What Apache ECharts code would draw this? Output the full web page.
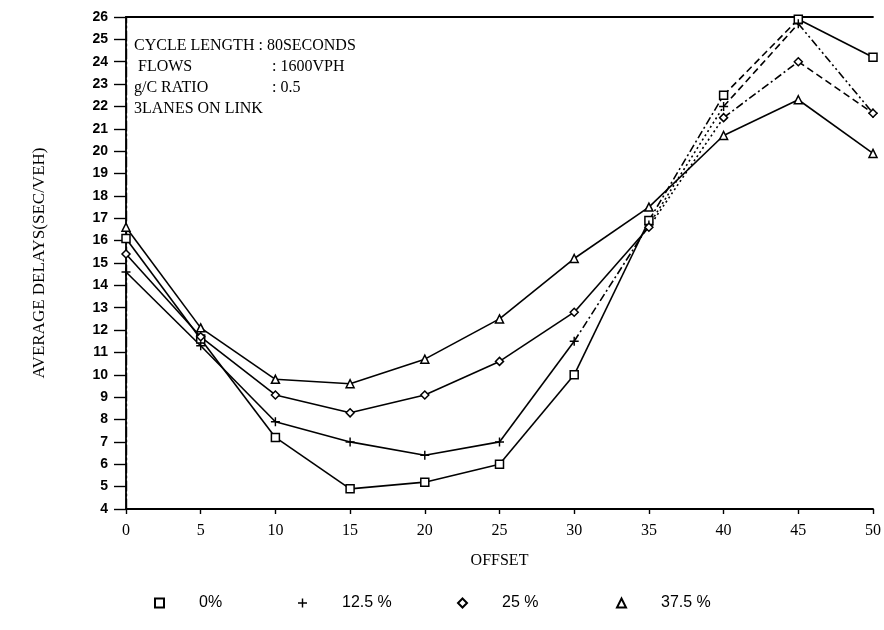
<!DOCTYPE html>
<html>
<head>
<meta charset="utf-8">
<script src="https://cdn.jsdelivr.net/npm/echarts@6/dist/echarts.min.js"></script>
<style>html,body{margin:0;padding:0;background:#fff;}#c{width:884px;height:630px;}</style>
</head>
<body>
<div id="c"></div>
<script>
// ---- data ----
const offsets = [0, 5, 10, 15, 20, 25, 30, 35, 40, 45, 50];
const seriesNames = ['0%', '12.5 %', '25 %', '37.5 %'];
const delay0 = [16.1, 11.6, 7.2, 4.9, 5.2, 6.0, 10.0, 16.9, 22.5, 25.9, 24.2];
const delay125 = [14.6, 11.3, 7.9, 7.0, 6.4, 7.0, 11.5, 16.7, 22.0, 25.7, 21.7];
const delay25 = [15.4, 11.7, 9.1, 8.3, 9.1, 10.6, 12.8, 16.6, 21.5, 24.0, 21.7];
const delay375 = [16.6, 12.1, 9.8, 9.6, 10.7, 12.5, 15.2, 17.5, 20.7, 22.3, 19.9];
const yTicks = { min: 4, max: 26, step: 1 };
const xTicks = { min: 0, max: 50, step: 5 };
const noteLines = [
  ['CYCLE LENGTH : 80SECONDS', ''],
  [' FLOWS', ': 1600VPH'],
  ['g/C RATIO', ': 0.5'],
  ['3LANES ON LINK', '']
];

// ---- styles ----
const allData = [delay0, delay125, delay25, delay375];
const dashes = {
  solid: 'solid',
  dash: [7, 4],
  dot: [2, 3],
  dashdot: [8, 3, 2, 3],
  dashdotdot: [8, 3, 2, 3, 2, 3]
};
const S = 'solid';
const segStyles = [
  [S, S, S, S, S, S, S, 'dashdot', 'dash', S],
  [S, S, S, S, S, S, 'dashdot', 'dot', 'dash', 'dashdotdot'],
  [S, S, S, S, S, S, S, 'dot', 'dashdot', 'dash'],
  [S, S, S, S, S, S, S, S, S, S]
];
const plusPath = 'path://M4.2,0H5.8V4.2H10V5.8H5.8V10H4.2V5.8H0V4.2H4.2Z';
const markers = [
  { symbol: 'rect', size: 8, itemStyle: { color: '#fff', borderColor: '#000', borderWidth: 1.5 } },
  { symbol: plusPath, size: 9, itemStyle: { color: '#000', borderWidth: 0 } },
  { symbol: 'diamond', size: 8, itemStyle: { color: '#fff', borderColor: '#000', borderWidth: 1.5 } },
  { symbol: 'triangle', size: 8, itemStyle: { color: '#fff', borderColor: '#000', borderWidth: 1.5 } }
];
const LW = 1.6;

const series = [];
allData.forEach((vals, si) => {
  for (let i = 0; i < offsets.length - 1; i++) {
    series.push({
      type: 'line',
      silent: true,
      showSymbol: false,
      symbol: 'none',
      z: 2,
      data: [[offsets[i], vals[i]], [offsets[i + 1], vals[i + 1]]],
      lineStyle: { color: '#000', width: LW, type: dashes[segStyles[si][i]] },
      animation: false
    });
  }
});
allData.forEach((vals, si) => {
  series.push({
    name: seriesNames[si],
    type: 'line',
    z: 5,
    data: offsets.map((x, i) => [x, vals[i]]),
    symbol: markers[si].symbol,
    symbolSize: markers[si].size,
    showSymbol: true,
    itemStyle: markers[si].itemStyle,
    lineStyle: { width: 0, opacity: 0 },
    animation: false
  });
});

const legendLefts = [149, 293, 452, 611];
const legends = seriesNames.map((n, i) => ({
  left: legendLefts[i],
  top: 590,
  data: [{ name: n, icon: markers[i].symbol }],
  itemWidth: 9,
  itemHeight: 9,
  selectedMode: false,
  textStyle: { fontFamily: 'Liberation Sans Narrow, Liberation Sans, sans-serif', fontSize: 16, color: '#000', padding: [0, 0, 0, 30] }
}));

const serif = 'Liberation Serif, Times New Roman, serif';
const graphics = [];
noteLines.forEach((ln, i) => {
  graphics.push({ type: 'text', left: 134, top: 38 + i * 21, style: { text: ln[0], font: '16px ' + serif, fill: '#000' } });
  if (ln[1]) graphics.push({ type: 'text', left: 272, top: 38 + i * 21, style: { text: ln[1], font: '16px ' + serif, fill: '#000' } });
});

const chart = echarts.init(document.getElementById('c'), null, { renderer: 'canvas' });
chart.setOption({
  animation: false,
  backgroundColor: '#fff',
  grid: { left: 126, right: 8, top: 17, bottom: 121, containLabel: false },
  legend: legends,
  graphic: graphics,
  xAxis: [{
    type: 'value', min: xTicks.min, max: xTicks.max, interval: xTicks.step,
    name: 'OFFSET', nameLocation: 'middle', nameGap: 44,
    nameTextStyle: { fontFamily: serif, fontSize: 16, color: '#000' },
    axisLine: { lineStyle: { color: '#000', width: 1.8 } },
    axisTick: { inside: false, length: 5, lineStyle: { color: '#000', width: 1.4 } },
    axisLabel: { margin: 14, fontFamily: serif, fontSize: 16, color: '#000' },
    splitLine: { show: false }
  }, {
    type: 'value', position: 'top', min: xTicks.min, max: xTicks.max, interval: xTicks.step,
    axisLine: { show: true, lineStyle: { color: '#000', width: 1.8 } },
    axisTick: { show: false }, axisLabel: { show: false }, splitLine: { show: false }
  }],
  yAxis: [{
    type: 'value', min: yTicks.min, max: yTicks.max, interval: yTicks.step,
    name: 'AVERAGE DELAYS(SEC/VEH)', nameLocation: 'middle', nameGap: 78, nameRotate: 90,
    nameTextStyle: { fontFamily: serif, fontSize: 17, color: '#000' },
    axisLine: { show: true, lineStyle: { color: '#000', width: 1.8 } },
    axisTick: { inside: false, length: 12, lineStyle: { color: '#000', width: 1.4 } },
    axisLabel: { margin: 18, fontFamily: 'Liberation Sans, Arial, sans-serif', fontWeight: 'bold', fontSize: 14, color: '#000' },
    splitLine: { show: false }
  }, {
    type: 'value', position: 'right', min: yTicks.min, max: yTicks.max, interval: yTicks.step,
    axisLine: { show: true, lineStyle: { color: '#000', width: 1.4, type: [10, 3, 2, 3] } },
    axisTick: { show: false }, axisLabel: { show: false }, splitLine: { show: false }
  }],
  series: series
});
</script>
</body>
</html>
